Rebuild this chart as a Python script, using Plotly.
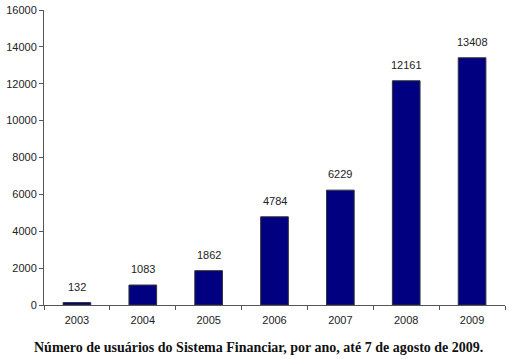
import plotly.graph_objects as go

anos = ["2003", "2004", "2005", "2006", "2007", "2008", "2009"]
usuarios = [132, 1083, 1862, 4784, 6229, 12161, 13408]
y_ticks = [0, 2000, 4000, 6000, 8000, 10000, 12000, 14000, 16000]

fig = go.Figure(go.Bar(
    x=anos,
    y=usuarios,
    width=0.42,
    marker=dict(color="#000080", line=dict(color="#333333", width=1)),
    hoverinfo="x+y",
))

# value labels above each bar (category axis -> annotation x is the category index)
for i, v in enumerate(usuarios):
    fig.add_annotation(
        x=i, y=v, text=str(v), showarrow=False,
        yanchor="bottom", yshift=8,
        font=dict(family="Liberation Sans, Arial", size=11, color="#222222"),
    )

fig.add_annotation(
    text="<b>Número de usuários do Sistema Financiar, por ano, até 7 de agosto de 2009.</b>",
    xref="paper", yref="paper", x=0.465, y=0, yshift=-42,
    xanchor="center", yanchor="middle", showarrow=False,
    font=dict(family="Liberation Serif, Times New Roman", size=14, color="#111111"),
)

fig.update_layout(
    width=510, height=359,
    margin=dict(l=44, r=5, t=10, b=54),
    paper_bgcolor="white",
    plot_bgcolor="white",
    showlegend=False,
    font=dict(family="Liberation Sans, Arial", size=11, color="#222222"),
    xaxis=dict(
        type="category",
        showline=True, linecolor="#555555", linewidth=1,
        ticks="outside", tickson="boundaries", ticklen=4, tickcolor="#555555",
        ticklabelstandoff=5,
        showgrid=False,
    ),
    yaxis=dict(
        range=[0, 16000],
        tickvals=y_ticks,
        ticktext=[str(v) for v in y_ticks],
        showline=True, linecolor="#555555", linewidth=1,
        ticks="outside", ticklen=4, tickcolor="#555555",
        showgrid=False, zeroline=False,
    ),
)

# page body margin would shift the chart by 8px
fig.write_html("out.html", config={"displayModeBar": False},
               post_script="document.body.style.margin='0';")
